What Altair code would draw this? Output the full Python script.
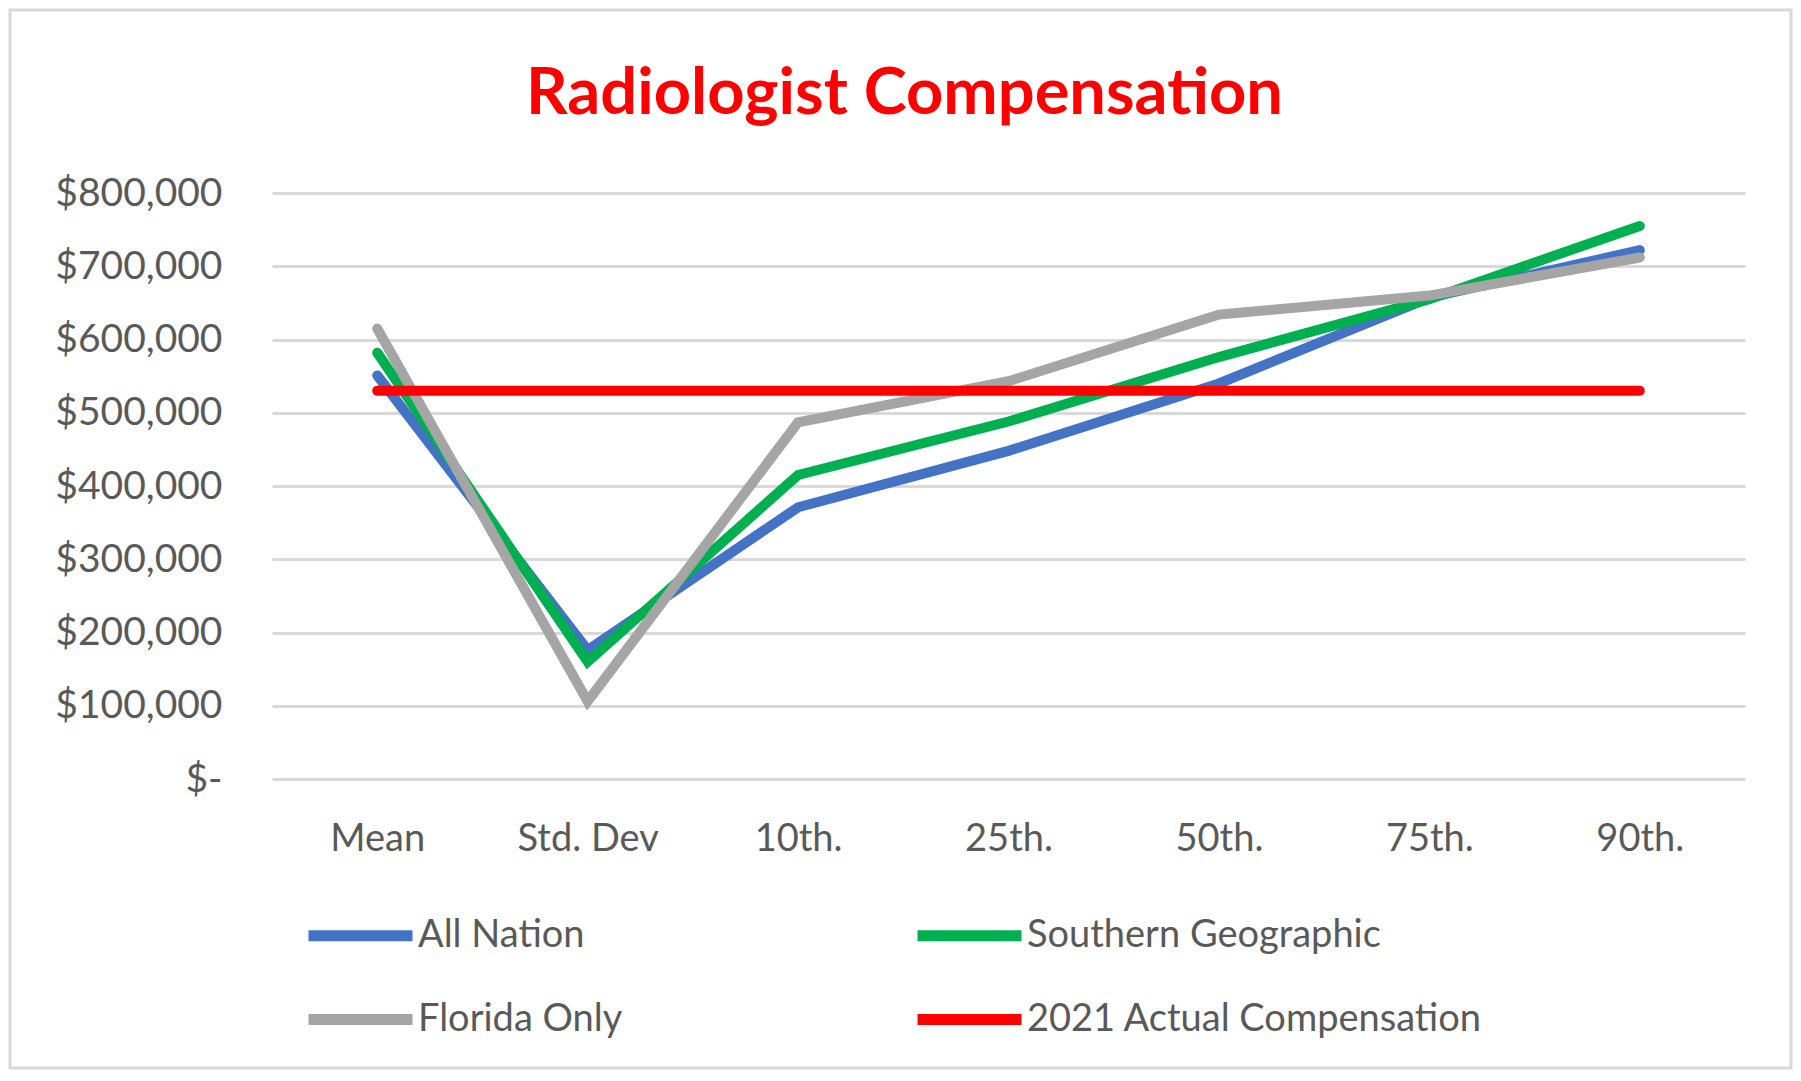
import altair as alt
import pandas as pd

categories = ["Mean", "Std. Dev", "10th.", "25th.", "50th.", "75th.", "90th."]
series_names = ["All Nation", "Southern Geographic", "Florida Only", "2021 Actual Compensation"]
all_nation = [551000, 176000, 371000, 448000, 540000, 657000, 722000]
southern = [582000, 160000, 415000, 488000, 576000, 655000, 755000]
florida = [615000, 106000, 487000, 543000, 634000, 660000, 712000]
actual_2021 = [530000, 530000, 530000, 530000, 530000, 530000, 530000]
colors = ["#4472C4", "#00B050", "#A5A5A5", "#FF0000"]
y_ticks = [0, 100000, 200000, 300000, 400000, 500000, 600000, 700000, 800000]

rows = []
for name, vals in zip(series_names, [all_nation, southern, florida, actual_2021]):
    for i, (c, v) in enumerate(zip(categories, vals)):
        rows.append({"category": c, "series": name, "value": v, "order": i})
df = pd.DataFrame(rows)

W, H = 1473, 586
FONT = "Lato"
TXT = "#595959"

lines = alt.Chart(df).mark_line(strokeWidth=10, strokeCap="round").encode(
    x=alt.X("category:N", sort=categories, scale=alt.Scale(type="point", padding=0.5),
            axis=alt.Axis(title=None, labelFontSize=38, labelFont=FONT, labelColor=TXT,
                          labelPadding=41, ticks=False, domain=False, grid=False, labelAngle=0)),
    y=alt.Y("value:Q", scale=alt.Scale(domain=[0, 800000], nice=False),
            axis=alt.Axis(title=None, values=y_ticks, labelFontSize=39, labelFont=FONT,
                          labelColor=TXT, labelPadding=50, ticks=False, domain=False,
                          grid=True, gridColor="#D9D9D9", gridWidth=3,
                          labelExpr="datum.value == 0 ? '$-\u00a0\u00a0\u00a0' : format(datum.value, '$,.0f')")),
    color=alt.Color("series:N", sort=series_names,
                    scale=alt.Scale(domain=series_names, range=colors),
                    legend=alt.Legend(title=None, orient="none", legendX=31, legendY=685,
                                      direction="horizontal",
                                      columns=2, columnPadding=272, rowPadding=4,
                                      symbolType="stroke", symbolSize=10816, symbolStrokeWidth=11,
                                      labelFontSize=38, labelFont=FONT, labelColor=TXT,
                                      labelOffset=0, padding=0, labelLimit=600)),
    order=alt.Order("order:Q"),
)

border = alt.Chart(pd.DataFrame({"a": [0]})).mark_rect(
    fill=None, stroke="#D9D9D9", strokeWidth=3, clip=False
).encode(
    x=alt.value(-262), x2=alt.value(1519), y=alt.value(-183), y2=alt.value(875)
)

chart = alt.layer(border, lines).properties(
    width=W, height=H,
    title=alt.Title("Radiologist Compensation", fontSize=65, font=FONT, fontWeight="bold",
                    color="#FF0000", anchor="middle", dx=-104, offset=-170, baseline="alphabetic"),
    autosize=alt.AutoSizeParams(type="none"),
    padding={"left": 264, "top": 185, "right": 48, "bottom": 291},
).configure(background="white").configure_view(strokeWidth=0, stroke="transparent")

chart.save("out.html", embed_options={"renderer": "svg", "actions": False})
